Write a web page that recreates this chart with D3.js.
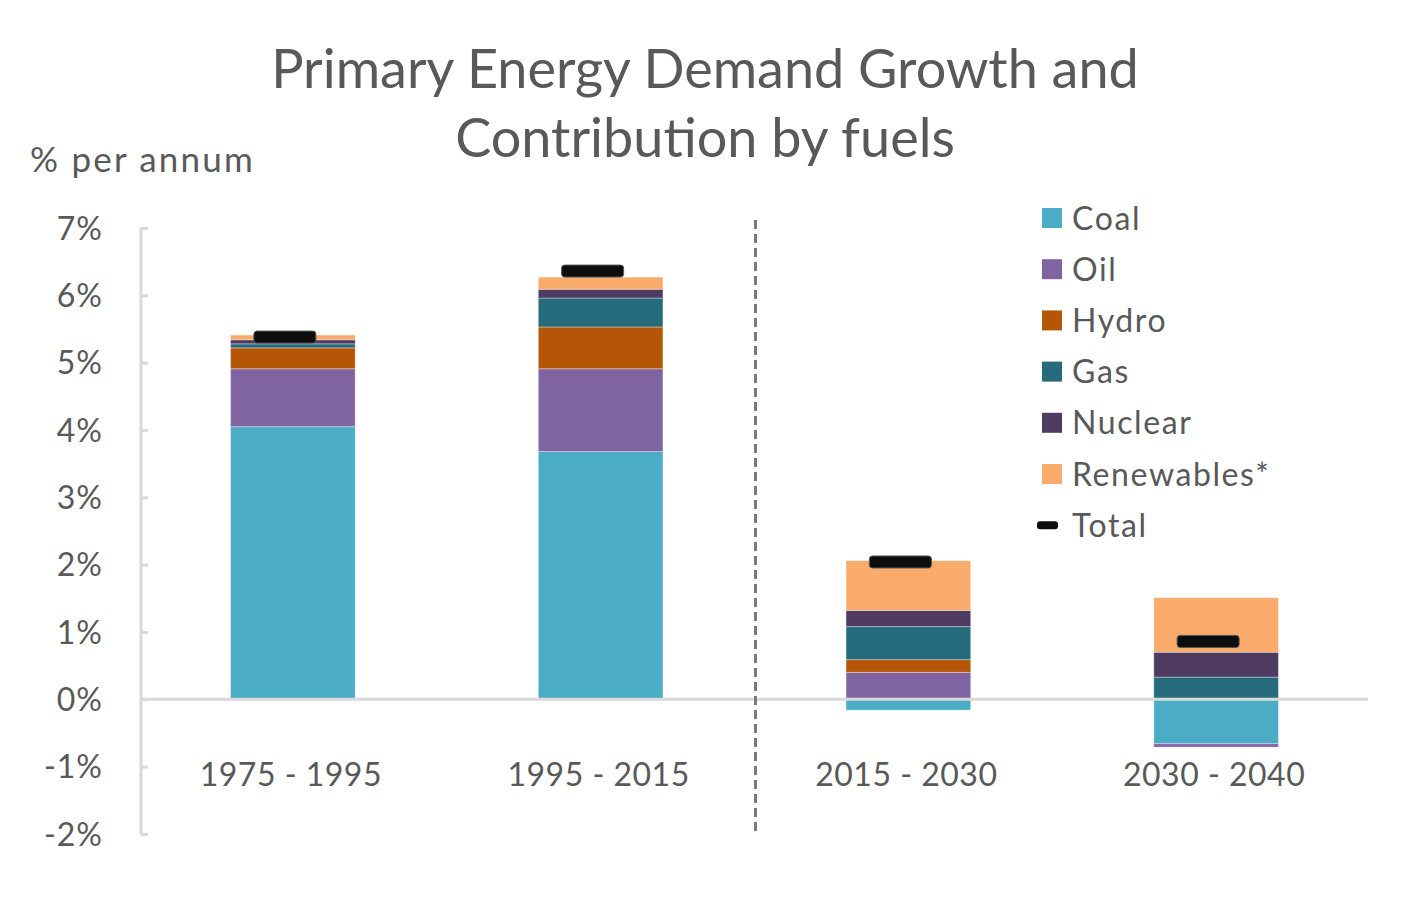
<!DOCTYPE html>
<html><head><meta charset="utf-8">
<script src="https://cdn.jsdelivr.net/npm/d3@7/dist/d3.min.js"></script>
<style>body{margin:0;background:#fff}svg{display:block}</style>
</head><body><svg id="c" width="1410" height="899"></svg>
<script>
const categories = ["1975 - 1995","1995 - 2015","2015 - 2030","2030 - 2040"];
const fuels = ["Coal","Oil","Hydro","Gas","Nuclear","Renewables*"];
const coal = [4.05, 3.68, -0.16, -0.66];
const oil = [0.86, 1.23, 0.40, -0.05];
const hydro = [0.31, 0.62, 0.19, 0.0];
const gas = [0.06, 0.43, 0.49, 0.33];
const nuclear = [0.06, 0.13, 0.24, 0.37];
const renewables = [0.07, 0.18, 0.74, 0.81];
const total = [5.38, 6.36, 2.04, 0.86];
const yTicks = [-2,-1,0,1,2,3,4,5,6,7];
const colors = ["#4bacc6","#8064a2","#b55607","#266b7b","#4f3b62","#f8ab6b"];

const series = [coal, oil, hydro, gas, nuclear, renewables];
const rows = categories.map((c,i)=>{const r={cat:c}; fuels.forEach((f,j)=>r[f]=series[j][i]); return r;});

const svg = d3.select("#c");
const font = "Lato, 'Open Sans', sans-serif";
const txt = "#595959";

const x = d3.scaleBand().domain(categories).range([139,1370]).padding(0);
const y = d3.scaleLinear().domain([-2,7]).range([834,228]);
const barW = x.bandwidth()*0.405;

// title
svg.append("text").attr("x",705).attr("y",88).attr("text-anchor","middle")
  .attr("font-family",font).attr("font-size",54).attr("fill",txt).text("Primary Energy Demand Growth and");
svg.append("text").attr("x",705).attr("y",157).attr("text-anchor","middle")
  .attr("font-family",font).attr("font-size",54).attr("fill",txt).text("Contribution by fuels");
svg.append("text").attr("x",30).attr("y",172)
  .attr("font-family",font).attr("font-size",35).attr("letter-spacing",2.2).attr("fill",txt).text("% per annum");

// y axis
const yAxis = d3.axisLeft(y).tickValues(yTicks).tickFormat(d=>d+"%").tickSize(-7).tickPadding(38);
const ya = svg.append("g").attr("transform","translate(141,0)").call(yAxis);
ya.select(".domain").attr("stroke","#d9d9d9").attr("stroke-width",3).attr("d","M0,"+y(7)+"V"+y(-2));
ya.selectAll(".tick line").attr("stroke","#d9d9d9").attr("stroke-width",3);
ya.selectAll(".tick text").attr("font-family",font).attr("font-size",32).attr("letter-spacing",1).attr("fill",txt).attr("dy","0.35em");

// bars
const stack = d3.stack().keys(fuels).offset(d3.stackOffsetDiverging);
const st = stack(rows);
svg.append("g").selectAll("g").data(st).join("g").attr("fill",(d,i)=>colors[i])
  .selectAll("rect").data(d=>d).join("rect")
  .attr("x",d=>x(d.data.cat)+x.bandwidth()/2-barW/2)
  .attr("width",barW)
  .attr("y",d=>y(Math.max(d[0],d[1])))
  .attr("height",d=>Math.abs(y(d[0])-y(d[1])))
  .attr("stroke","rgba(255,255,255,0.35)").attr("stroke-width",1);

// zero line
svg.append("line").attr("x1",141).attr("x2",1368).attr("y1",y(0)).attr("y2",y(0))
  .attr("stroke","#d9d9d9").attr("stroke-width",3);

// dashed separator
svg.append("line").attr("x1",x(categories[2])+1).attr("x2",x(categories[2])+1).attr("y1",220).attr("y2",y(-2)-3)
  .attr("stroke","#7a7a7a").attr("stroke-width",3).attr("stroke-dasharray","9,5");

// totals
svg.append("g").selectAll("rect").data(total).join("rect")
  .attr("x",(d,i)=>x(categories[i])+x.bandwidth()/2-8-31)
  .attr("y",d=>y(d)-6).attr("width",62).attr("height",12).attr("rx",3)
  .attr("fill","#0d0d0d").attr("stroke","#555").attr("stroke-width",1);

// category labels
svg.append("g").selectAll("text").data(categories).join("text")
  .attr("x",d=>x(d)+x.bandwidth()/2-2).attr("y",786).attr("text-anchor","middle")
  .attr("font-family",font).attr("font-size",32).attr("letter-spacing",0.5).attr("fill",txt).text(d=>d);

// legend
const leg = svg.append("g");
fuels.forEach((f,i)=>{
  const cy = 218 + i*51.2;
  leg.append("rect").attr("x",1042).attr("y",cy-10).attr("width",20).attr("height",20).attr("fill",colors[i]);
  leg.append("text").attr("x",1072).attr("y",cy).attr("dy","0.36em").attr("font-family",font)
    .attr("font-size",32).attr("letter-spacing",1.6).attr("fill",txt).text(f);
});
const ty = 218 + 6*51.2;
leg.append("rect").attr("x",1037).attr("y",ty-4).attr("width",21).attr("height",8).attr("rx",3).attr("fill","#0d0d0d");
leg.append("text").attr("x",1072).attr("y",ty).attr("dy","0.36em").attr("font-family",font)
  .attr("font-size",32).attr("letter-spacing",1.6).attr("fill",txt).text("Total");
</script></body></html>
